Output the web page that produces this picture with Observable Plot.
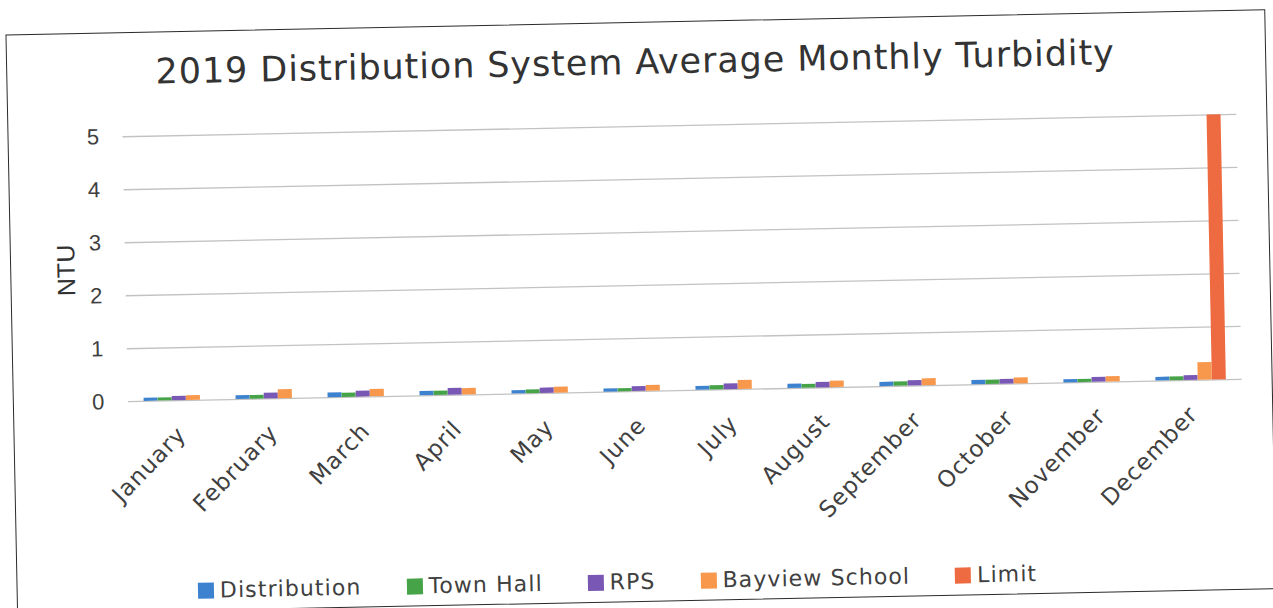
<!DOCTYPE html>
<html>
<head>
<meta charset="utf-8">
<script src="https://cdn.jsdelivr.net/npm/d3@7"></script>
<script src="https://cdn.jsdelivr.net/npm/@observablehq/plot@0.6"></script>
<style>
  html, body { margin: 0; padding: 0; background: #fff; overflow: hidden; }
  #page {
    position: absolute; left: 0; top: 0; width: 1273px; height: 608px;
    transform: rotate(-1.15deg); transform-origin: 636px 304px;
  }
  #frame {
    position: absolute; left: 11px; top: 22px; width: 1260px; height: 580px;
    border: 1.5px solid #2b2b2b; box-sizing: border-box;
  }
  #title {
    position: absolute; left: 640px; top: 45px; transform: translateX(-50%);
    font-family: "DejaVu Sans", sans-serif; font-size: 35px; line-height: 35px;
    letter-spacing: 0.9px; color: #333; white-space: nowrap;
  }
  #chart { position: absolute; left: 0; top: 0; }
  #legend {
    position: absolute; left: 612px; top: 569px; transform: translateX(-50%);
    display: flex; align-items: center; gap: 45px; white-space: nowrap;
    font-family: "DejaVu Sans", sans-serif; font-size: 22px; line-height: 26px;
    letter-spacing: 1.1px; color: #404040;
  }
  #legend .item { display: flex; align-items: center; gap: 6px; }
  #legend .swatch { width: 16px; height: 16px; }
</style>
</head>
<body>
<div id="page">
  <div id="frame"></div>
  <div id="title">2019 Distribution System Average Monthly Turbidity</div>
  <div id="chart"></div>
  <div id="legend"></div>
</div>
<script>
// Monthly average turbidity (NTU) at each sampling site, 2019
const months = ["January", "February", "March", "April", "May", "June",
  "July", "August", "September", "October", "November", "December"];
const distribution = [0.06, 0.07, 0.09, 0.08, 0.06, 0.06, 0.07, 0.08, 0.08, 0.08, 0.06, 0.07];
const townHall     = [0.06, 0.07, 0.08, 0.08, 0.07, 0.06, 0.08, 0.07, 0.08, 0.08, 0.06, 0.07];
const rps          = [0.08, 0.11, 0.11, 0.13, 0.10, 0.09, 0.11, 0.10, 0.10, 0.09, 0.09, 0.09];
const bayview      = [0.09, 0.17, 0.14, 0.12, 0.11, 0.11, 0.17, 0.12, 0.13, 0.11, 0.10, 0.33];
const limit        = [null, null, null, null, null, null, null, null, null, null, null, 5];

const seriesNames = ["Distribution", "Town Hall", "RPS", "Bayview School", "Limit"];
const seriesColors = ["#3c82cf", "#46a347", "#7957b4", "#f8984c", "#ee6a40"];
const yTicks = [0, 1, 2, 3, 4, 5];

const seriesValues = [distribution, townHall, rps, bayview, limit];
const rows = seriesNames.flatMap((s, i) =>
  months.map((m, j) => ({month: m, series: s, value: seriesValues[i][j]})));

// layout
const W = 1273, H = 540;
const mL = 126, mR = 33, mT = 126, mB = 149;
const padInner = 0.848;
const step = (W - mL - mR) / months.length;
const bw = step * (1 - padInner);

const chart = Plot.plot({
  width: W,
  height: H,
  marginLeft: mL,
  marginRight: mR,
  marginTop: mT,
  marginBottom: mB,
  style: {background: "transparent", color: "#404040", overflow: "visible"},
  x: {type: "band", domain: months, paddingInner: padInner, paddingOuter: padInner / 2, label: null},
  y: {domain: [0, 5], label: null},
  color: {domain: seriesNames, range: seriesColors},
  marks: [
    Plot.ruleY(yTicks, {stroke: "#c2c2c2", strokeWidth: 1.3}),
    ...seriesNames.map((s, i) =>
      Plot.barY(rows.filter(d => d.series === s && d.value != null), {
        x: "month", y: "value", fill: "series", inset: 0, dx: (i - 2) * bw
      })),
    Plot.axisY({ticks: yTicks, tickSize: 0, tickPadding: 24, fontSize: 22,
      fontFamily: "Liberation Sans, Arial, sans-serif", label: null, tickFormat: d => String(d)}),
    Plot.axisX({tickRotate: -45, tickSize: 0, tickPadding: 30, dx: 2, fontSize: 23,
      fontFamily: "DejaVu Sans, sans-serif", label: null}),
    Plot.text(["NTU"], {text: d => d, frameAnchor: "left", textAnchor: "middle", dx: -59, rotate: -90,
      fontSize: 25, fontFamily: "Liberation Sans, Arial, sans-serif", fill: "#333"})
  ]
});

d3.select(chart).selectAll('[aria-label="x-axis tick label"] text').style("letter-spacing", "1px");
document.getElementById("chart").appendChild(chart);

const legend = d3.select("#legend");
seriesNames.forEach((s, i) => {
  const item = legend.append("div").attr("class", "item");
  item.append("div").attr("class", "swatch").style("background", seriesColors[i]);
  item.append("span").text(s);
});
</script>
</body>
</html>
